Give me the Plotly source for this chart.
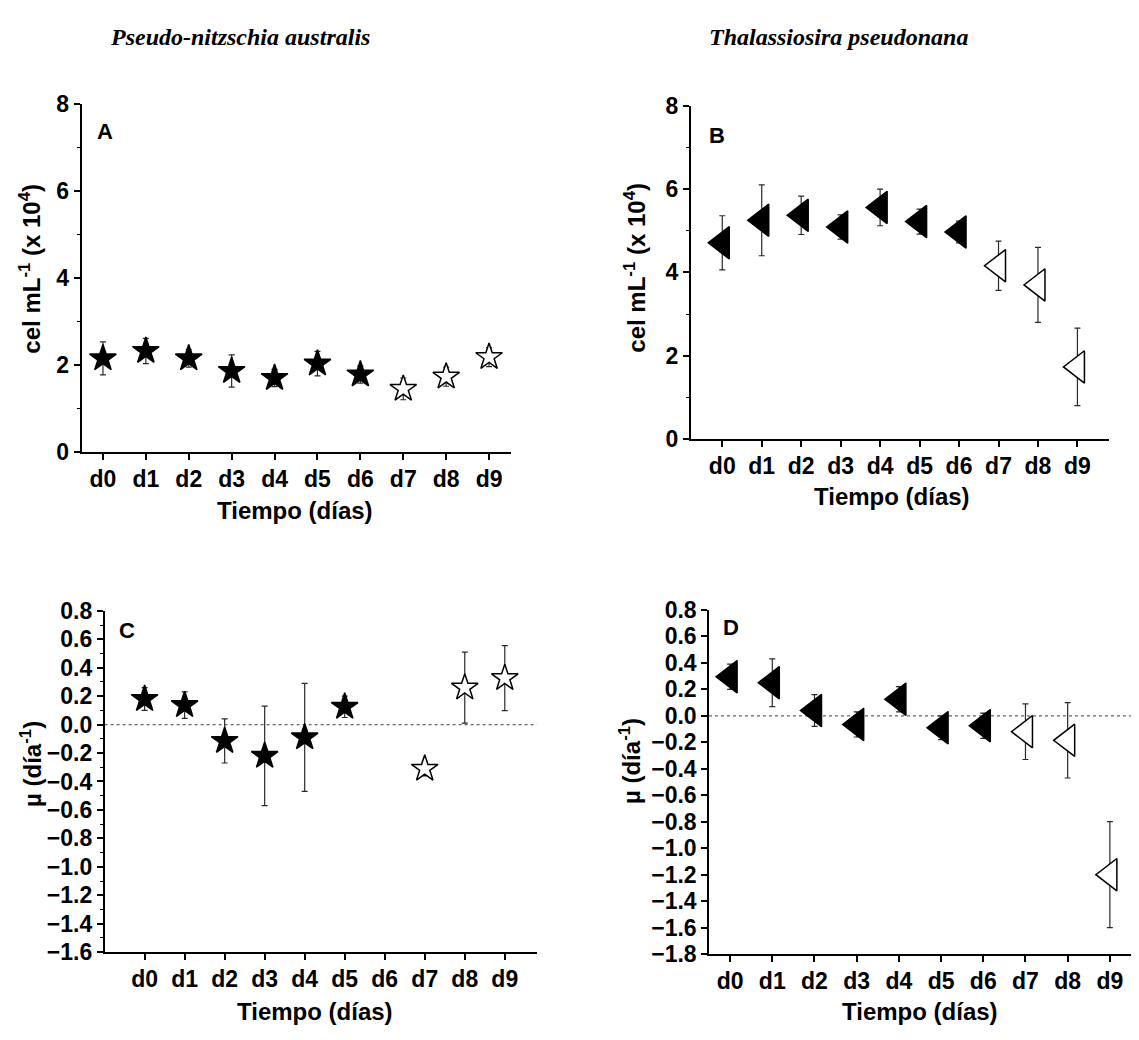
import plotly.graph_objects as go

W, H = 1139, 1040
OFF = 8  # default page body margin shifts the figure by this many pixels

days = ["d0", "d1", "d2", "d3", "d4", "d5", "d6", "d7", "d8", "d9"]
filled_days = 7  # d0..d6 filled markers, d7..d9 open markers

# Panel A: Pseudo-nitzschia australis, cel mL-1 (x 10^4)
a_mean = [2.15, 2.32, 2.15, 1.86, 1.70, 2.03, 1.78, 1.45, 1.73, 2.18]
a_sd = [0.38, 0.29, 0.20, 0.37, 0.20, 0.28, 0.20, 0.25, 0.22, 0.22]

# Panel B: Thalassiosira pseudonana, cel mL-1 (x 10^4)
b_mean = [4.71, 5.25, 5.37, 5.09, 5.56, 5.22, 4.97, 4.16, 3.70, 1.73]
b_sd = [0.65, 0.85, 0.46, 0.29, 0.44, 0.30, 0.26, 0.59, 0.90, 0.93]

# Panel C: Pseudo-nitzschia australis, growth rate (dia-1)
c_mean = [0.18, 0.137, -0.115, -0.22, -0.09, 0.125, None, -0.31, 0.26, 0.327]
c_sd = [0.08, 0.093, 0.155, 0.35, 0.38, 0.075, None, 0.05, 0.25, 0.228]

# Panel D: Thalassiosira pseudonana, growth rate (dia-1)
d_mean = [0.295, 0.25, 0.04, -0.065, 0.125, -0.09, -0.075, -0.12, -0.185, -1.20]
d_sd = [0.095, 0.18, 0.12, 0.095, 0.095, 0.09, 0.095, 0.21, 0.285, 0.40]

FONT = "Liberation Sans, Arial, sans-serif"
SERIF = "Liberation Serif"

def px_x(x):
    return (x - OFF) / W

def px_y(y):
    return 1 - (y - OFF) / H

fig = go.Figure()

panels = [
    ("A", a_mean, a_sd, "star", 20, ""),
    ("B", b_mean, b_sd, "triangle-left", 28, "2"),
    ("C", c_mean, c_sd, "star", 20, "3"),
    ("D", d_mean, d_sd, "triangle-left", 28, "4"),
]

for name, mean, sd, sym, size, sfx in panels:
    xa = "x" + sfx
    ya = "y" + sfx
    groups = [(0, filled_days, "black"), (filled_days, len(days), "white")]
    for lo, hi, fill in groups:
        xs, ys, es = [], [], []
        for i in range(lo, hi):
            if mean[i] is None:
                continue
            xs.append(i)
            ys.append(mean[i])
            es.append(sd[i])
        fig.add_trace(go.Scatter(
            x=xs, y=ys, mode="markers", xaxis=xa, yaxis=ya,
            marker=dict(symbol=sym, size=size, color=fill,
                        line=dict(color="black", width=1.5)),
            error_y=dict(type="data", array=es, visible=True,
                         color="#2a2a2a", thickness=1.2, width=3),
            showlegend=False, hoverinfo="skip",
        ))

geo = {
    "": dict(x0=81.5, x1=510.5, yt=93, yb=450, xr=[-0.5, 9.5], yr=[0, 8],
             dt=2, minor=1),
    "2": dict(x0=690.7, x1=1109, yt=95, yb=436.7, xr=[-0.8, 9.8], yr=[0, 8],
              dt=2, minor=1),
    "3": dict(x0=104.6, x1=536.8, yt=613, yb=963, xr=[-1.0, 9.8], yr=[-1.6, 0.8],
              dt=0.2, minor=0.1),
    "4": dict(x0=709, x1=1147, yt=612, yb=965, xr=[-0.5, 9.88], yr=[-1.8, 0.8],
              dt=0.2, minor=None),
}

tickfont = dict(family=FONT, size=23, color="black", weight="bold")
layout = {}
for sfx, g in geo.items():
    xkey = "xaxis" + sfx
    ykey = "yaxis" + sfx
    layout[xkey] = dict(
        domain=[px_x(g["x0"]), min(1.0, px_x(g["x1"]))],
        anchor="y" + sfx, range=g["xr"], tickmode="array",
        tickvals=list(range(len(days))), ticktext=days,
        showline=True, linecolor="black", linewidth=1.5,
        ticks="outside", ticklen=6, tickwidth=1.5, tickcolor="black",
        showgrid=False, zeroline=False, tickfont=tickfont,
    )
    yd = dict(
        domain=[px_y(g["yb"]), px_y(g["yt"])],
        anchor="x" + sfx, range=g["yr"], dtick=g["dt"], tick0=0,
        showline=True, linecolor="black", linewidth=1.5,
        ticks="outside", ticklen=6, tickwidth=1.5, tickcolor="black",
        showgrid=False, zeroline=False, tickfont=tickfont,
        tickformat=".1f" if g["dt"] < 1 else "d",
    )
    if g["minor"]:
        yd["minor"] = dict(dtick=g["minor"], ticks="outside", ticklen=3,
                           tickwidth=1.2, tickcolor="black", showgrid=False)
    layout[ykey] = yd

fig.update_layout(**layout)

fig.add_shape(type="line", xref="x3", yref="y3", x0=-1.0, x1=9.8, y0=0, y1=0,
              line=dict(color="#666666", width=1.2, dash="dot"), layer="below")
fig.add_shape(type="line", xref="x4", yref="y4", x0=-0.5, x1=9.7, y0=0, y1=0,
              line=dict(color="#666666", width=1.2, dash="dot"), layer="below")

ann = []
title_font = dict(family=SERIF, size=24, color="black", weight="bold", style="italic")
ann.append(dict(x=px_x(240), y=px_y(24), text="<b><i>Pseudo-nitzschia australis</i></b>",
                font=title_font))
ann.append(dict(x=px_x(838), y=px_y(24), text="<b><i>Thalassiosira pseudonana</i></b>",
                font=title_font))
for letter, x, y in [("A", 105, 121), ("B", 717, 125), ("C", 127, 633), ("D", 731, 630)]:
    ann.append(dict(x=px_x(x), y=px_y(y), text=letter,
                    font=dict(family=FONT, size=22, color="black", weight="bold")))
for x, y in [(295, 510), (892, 496), (315, 1024), (920, 1024)]:
    ann.append(dict(x=px_x(x), y=px_y(y), text="Tiempo (días)",
                    font=dict(family=FONT, size=24, color="black", weight="bold")))
ytitle_cel = "cel mL<sup>-1</sup> (x 10<sup>4</sup>)"
ytitle_mu = "µ (día<sup>-1</sup>)"
for txt, x, y in [(ytitle_cel, 30, 262), (ytitle_cel, 635, 261),
                  (ytitle_mu, 31, 770), (ytitle_mu, 630, 767)]:
    ann.append(dict(x=px_x(x), y=px_y(y), text=txt, textangle=-90,
                    font=dict(family=FONT, size=24, color="black", weight="bold")))

for a in ann:
    a.update(xref="paper", yref="paper", showarrow=False,
             xanchor="center", yanchor="middle")

fig.update_layout(
    width=W, height=H, autosize=False,
    margin=dict(l=0, r=0, t=0, b=0),
    paper_bgcolor="white", plot_bgcolor="white",
    annotations=ann,
    font=dict(family=FONT, color="black"),
)

fig.write_html("out.html")
